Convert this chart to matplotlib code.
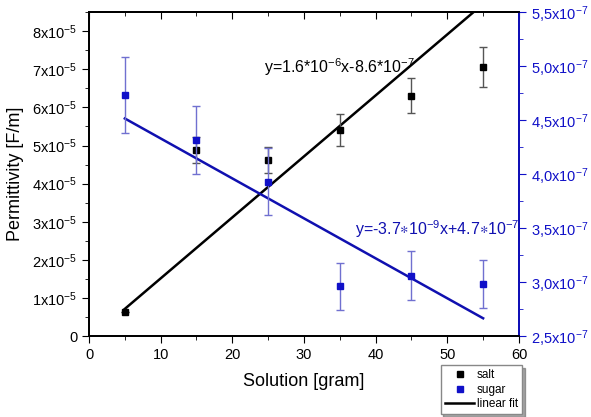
import numpy as np
import matplotlib.pyplot as plt
from matplotlib.ticker import MultipleLocator, FuncFormatter
from matplotlib.lines import Line2D

plt.rcParams['font.family'] = ['Liberation Sans', 'DejaVu Sans']
plt.rcParams['mathtext.fontset'] = 'custom'
plt.rcParams['mathtext.rm'] = 'Liberation Sans'
plt.rcParams['mathtext.it'] = 'Liberation Sans'
plt.rcParams['mathtext.default'] = 'regular'
plt.rcParams['axes.unicode_minus'] = False

# data
solution = [5, 15, 25, 35, 45, 55]
salt = [0.63e-5, 4.88e-5, 4.62e-5, 5.41e-5, 6.30e-5, 7.06e-5]
salt_err = [0.0, 0.35e-5, 0.35e-5, 0.41e-5, 0.46e-5, 0.52e-5]
sugar = [4.73e-7, 4.32e-7, 3.93e-7, 2.96e-7, 3.06e-7, 2.98e-7]
sugar_err = [0.35e-7, 0.315e-7, 0.31e-7, 0.22e-7, 0.23e-7, 0.22e-7]
salt_fit = (1.6e-6, -8.6e-7)
sugar_fit = (-3.7e-9, 4.7e-7)

blue = '#1010c8'

fig = plt.figure(figsize=(5.91, 4.17), dpi=100)
ax = fig.add_axes([0.1506, 0.194, 0.7275, 0.777])
ax2 = ax.twinx()

xf = np.array([solution[0], solution[-1]])
ax.plot(xf, salt_fit[0] * xf + salt_fit[1], color='black', lw=1.8, zorder=3)
ax.errorbar(solution, salt, yerr=salt_err, fmt='s', color='black', ms=5,
            ecolor='#555555', elinewidth=1, capsize=3, zorder=4)

ax2.plot(xf, sugar_fit[0] * xf + sugar_fit[1], color='#1010b0', lw=1.8, zorder=3)
ax2.errorbar(solution, sugar, yerr=sugar_err, fmt='s', color=blue, ms=5,
             ecolor='#7070d0', elinewidth=1, capsize=3, zorder=4)

ax.set_xlim(0, 60)
ax.set_ylim(0, 8.5e-5)
ax2.set_ylim(2.5e-7, 5.5e-7)

ax.xaxis.set_major_locator(MultipleLocator(10))
ax.xaxis.set_minor_locator(MultipleLocator(5))
ax.yaxis.set_major_locator(MultipleLocator(1e-5))
ax.yaxis.set_minor_locator(MultipleLocator(0.5e-5))
ax2.yaxis.set_major_locator(MultipleLocator(0.5e-7))
ax2.yaxis.set_minor_locator(MultipleLocator(0.25e-7))


def left_fmt(v, pos):
    n = int(round(v / 1e-5))
    if n == 0:
        return '0'
    return r'%dx10$^{-5}$' % n


def right_fmt(v, pos):
    s = ('%.1f' % (v / 1e-7)).replace('.', ',')
    return s + r'x10$^{-7}$'


ax.yaxis.set_major_formatter(FuncFormatter(left_fmt))
ax2.yaxis.set_major_formatter(FuncFormatter(right_fmt))

ax.tick_params(axis='x', which='both', direction='out', labelsize=10.5)
ax.tick_params(axis='x', which='major', length=5)
ax.tick_params(axis='x', which='minor', length=3)
ax.tick_params(axis='y', which='major', direction='out', length=5, labelsize=10.5)
ax.tick_params(axis='y', which='minor', direction='out', length=3)
ax2.tick_params(axis='y', which='major', direction='out', length=5, colors=blue,
                labelsize=10.5)
ax2.tick_params(axis='y', which='minor', direction='out', length=3, colors=blue)

# top ticks point inward
top = ax.secondary_xaxis('top')
top.xaxis.set_major_locator(MultipleLocator(10))
top.xaxis.set_minor_locator(MultipleLocator(5))
top.tick_params(which='both', direction='in', labeltop=False)
top.tick_params(which='major', length=5)
top.tick_params(which='minor', length=3)

for a in (ax, ax2, top):
    for s in a.spines.values():
        s.set_linewidth(1.3)
ax2.spines['right'].set_color(blue)

ax.set_xlabel('Solution [gram]', fontsize=13, labelpad=8)
ax.set_ylabel('Permittivity [F/m]', fontsize=13, labelpad=6)

ax.text(35.0, 7.05e-5, r'y=1.6*10$^{-6}$x-8.6*10$^{-7}$', fontsize=11.5,
        ha='center', va='center')
ax2.text(37.1, 3.49e-7, r'y=-3.7$\ast$10$^{-9}$x+4.7$\ast$10$^{-7}$', fontsize=11.5,
         ha='left', va='center', color='#1010b0')

handles = [Line2D([], [], ls='none', marker='s', color='black', ms=4.5),
           Line2D([], [], ls='none', marker='s', color=blue, ms=4.5),
           Line2D([], [], color='black', lw=1.8)]
leg = ax.legend(handles, ['salt', 'sugar', 'linear fit'], loc='upper right',
                bbox_to_anchor=(1.007, -0.09), fontsize=8.5, frameon=True,
                fancybox=False, shadow=True, handlelength=2.5, borderpad=0.35,
                labelspacing=0.2, handletextpad=0.2, borderaxespad=0)
leg.get_frame().set_edgecolor('#888888')

fig.savefig('out.png', dpi=100)
